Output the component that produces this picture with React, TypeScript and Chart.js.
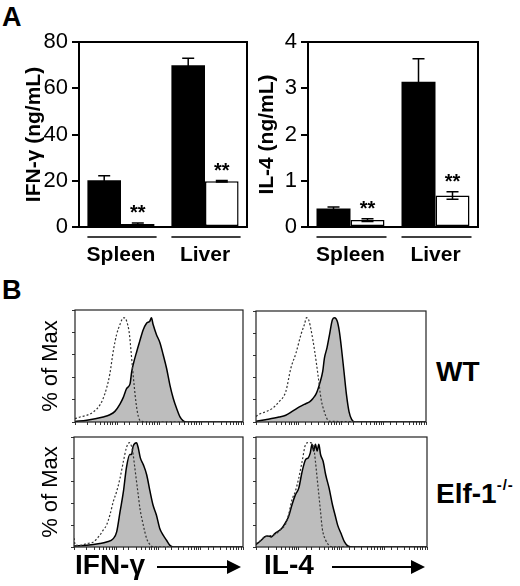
import React, { useEffect, useRef } from 'react';
import { Chart, registerables } from 'chart.js';

Chart.register(...registerables);

const FONT = "'Liberation Sans', Arial, Helvetica, sans-serif";

// ---------- Panel A data ----------
const tissues = ['Spleen', 'Liver'];
const ifngWT = [20.2, 70.0];
const ifngWTErr = [2.0, 3.0];
const ifngKO = [1.3, 19.8];
const ifngKOErr = [0.4, 0.3];
const il4WT = [0.4, 3.14];
const il4WTErr = [0.03, 0.5];
const il4KO = [0.15, 0.68];
const il4KOErr = [0.03, 0.08];
const sigMarks = ['**', '**'];

// ---------- Panel B data (x in log decades, y in % of max) ----------
const ifnWtIsoX = [0, 0.12, 0.28, 0.44, 0.59, 0.67, 0.75, 0.83, 0.91, 0.99, 1.07, 1.15, 1.19, 1.23, 1.29, 1.33, 1.37, 1.41, 1.45, 1.49, 1.53, 1.6, 1.75, 4];
const ifnWtIsoY = [3, 4.5, 6, 9, 15, 21, 30, 43, 63, 78, 87, 93, 93, 90, 80, 65, 48, 32, 18, 8, 2.5, 0.5, 0, 0];
const ifnWtX = [0, 0.28, 0.67, 0.83, 0.95, 1.07, 1.15, 1.23, 1.31, 1.35, 1.39, 1.47, 1.54, 1.62, 1.7, 1.78, 1.82, 1.86, 1.94, 2.02, 2.1, 2.18, 2.26, 2.34, 2.42, 2.5, 2.57, 2.65, 4];
const ifnWtY = [0.5, 1.5, 4.5, 6.5, 9.5, 16, 22, 30, 34, 45, 52, 63, 72, 82, 88, 90, 93, 87, 78, 71, 60, 48, 33, 21, 12, 4.5, 1.2, 0, 0];

const il4WtIsoX = [0, 0.06, 0.22, 0.38, 0.54, 0.7, 0.82, 0.94, 1.06, 1.14, 1.19, 1.24, 1.3, 1.38, 1.46, 1.53, 1.61, 1.67, 1.73, 4];
const il4WtIsoY = [5, 6.7, 9.1, 12.1, 18.2, 27.3, 48.5, 62, 79, 88, 94, 92, 82, 64, 42, 21, 9, 3, 0.6, 0];
const il4WtX = [0, 0.22, 0.54, 0.7, 0.86, 1.02, 1.18, 1.26, 1.34, 1.42, 1.5, 1.57, 1.61, 1.67, 1.73, 1.8, 1.85, 1.91, 1.96, 2.01, 2.07, 2.13, 2.19, 2.25, 2.33, 4];
const il4WtY = [0.6, 2.1, 4.5, 6.1, 9.7, 13.6, 16.7, 18.2, 21.2, 25.8, 34.8, 45.5, 57.6, 66.7, 78.8, 92.4, 93.9, 90.9, 81.8, 66.7, 45.5, 24.2, 9.1, 2.4, 0, 0];

const ifnKoIsoX = [0, 0.03, 0.14, 0.3, 0.46, 0.61, 0.69, 0.77, 0.85, 0.93, 1.01, 1.09, 1.17, 1.24, 1.31, 1.36, 1.4, 1.44, 1.48, 1.52, 1.56, 1.64, 1.72, 1.8, 1.87, 4];
const ifnKoIsoY = [8, 1.5, 1.5, 3.1, 4.6, 10.7, 15.3, 19.9, 29.1, 41.3, 50.5, 62.7, 78, 90.2, 94.8, 91.7, 84.1, 71.9, 59.6, 47.4, 35.2, 19.9, 7.6, 2.1, 0, 0];
const ifnKoX = [0, 0.3, 0.61, 0.77, 0.93, 1.01, 1.09, 1.17, 1.24, 1.32, 1.36, 1.4, 1.48, 1.52, 1.57, 1.64, 1.72, 1.8, 1.87, 1.95, 2.03, 2.11, 2.19, 2.27, 2.35, 4];
const ifnKoY = [1, 1.5, 3.1, 4.6, 7.6, 13.8, 32.1, 50.5, 71.9, 84.1, 84.1, 91.7, 94.8, 90.2, 81, 74.9, 65.7, 50.5, 38.2, 29.1, 16.8, 10.7, 6.1, 1.5, 0, 0];

const il4KoIsoX = [0, 0.12, 0.2, 0.28, 0.44, 0.6, 0.68, 0.76, 0.84, 0.92, 1.0, 1.08, 1.16, 1.22, 1.27, 1.35, 1.39, 1.43, 1.47, 1.51, 1.55, 1.63, 1.71, 1.79, 4];
const il4KoIsoY = [3.1, 6.1, 9.2, 10.1, 11.3, 16.8, 19.9, 29.1, 42.8, 50.5, 62.7, 78, 93.3, 94.8, 94.8, 90.2, 78, 62.7, 47.4, 32.1, 16.8, 6.1, 1.5, 0, 0];
const il4KoX = [0, 0.12, 0.2, 0.28, 0.36, 0.44, 0.6, 0.68, 0.76, 0.84, 0.92, 1.0, 1.08, 1.16, 1.22, 1.27, 1.31, 1.35, 1.39, 1.43, 1.47, 1.51, 1.57, 1.63, 1.71, 1.79, 1.86, 1.91, 1.99, 2.07, 2.15, 2.27, 4];
const il4KoY = [2.1, 6.1, 9.2, 10.1, 9.2, 12.2, 16.8, 21.4, 27.5, 38.2, 47.4, 53.5, 68.8, 79.5, 81, 85.6, 93.3, 87.2, 93.3, 87.2, 93.3, 84.1, 78, 65.7, 53.5, 38.2, 27.5, 19.9, 12.2, 4.6, 0.9, 0, 0];

const pctTicksMax = 100;

// ---------- plugins ----------
const barDecor = {
  id: 'barDecor',
  afterDatasetsDraw(chart: any) {
    const { ctx, chartArea: a } = chart;
    const y = chart.scales.y;
    ctx.save();
    ctx.strokeStyle = '#000';
    ctx.fillStyle = '#000';
    chart.data.datasets.forEach((ds: any, i: number) => {
      const meta = chart.getDatasetMeta(i);
      meta.data.forEach((bar: any, j: number) => {
        const v = ds.data[j];
        const e = ds.errors[j];
        const x = bar.x;
        const yt = y.getPixelForValue(v + e);
        const yb = y.getPixelForValue(Math.max(0, v - e));
        ctx.lineWidth = 1.5;
        ctx.beginPath();
        ctx.moveTo(x, yb);
        ctx.lineTo(x, yt);
        ctx.moveTo(x - 6, yt);
        ctx.lineTo(x + 6, yt);
        ctx.moveTo(x - 6, yb);
        ctx.lineTo(x + 6, yb);
        ctx.stroke();
        if (ds.marks) {
          ctx.font = `bold 20px ${FONT}`;
          ctx.textAlign = 'center';
          ctx.textBaseline = 'alphabetic';
          ctx.fillText(ds.marks[j], x, yt - 4);
        }
      });
    });
    ctx.lineWidth = 2;
    ctx.strokeRect(a.left, a.top, a.right - a.left, a.bottom - a.top);
    const m0 = chart.getDatasetMeta(0);
    const m1 = chart.getDatasetMeta(chart.data.datasets.length - 1);
    ctx.lineWidth = 1.5;
    m0.data.forEach((b: any, j: number) => {
      const r = m1.data[j];
      ctx.beginPath();
      ctx.moveTo(b.x - b.width / 2, a.bottom + 10);
      ctx.lineTo(r.x + r.width / 2 + 2, a.bottom + 10);
      ctx.stroke();
    });
    ctx.restore();
  },
};

const histDecor = {
  id: 'histDecor',
  afterDraw(chart: any, _args: any, opts: any) {
    const { ctx, chartArea: a } = chart;
    ctx.save();
    ctx.strokeStyle = '#222';
    ctx.lineWidth = 1.2;
    ctx.strokeRect(a.left, a.top, a.right - a.left, a.bottom - a.top);
    if (opts && opts.arrowFrom) {
      const yA = a.bottom + 20;
      const x0 = a.left + opts.arrowFrom;
      const x1 = a.right - 2;
      ctx.strokeStyle = '#000';
      ctx.fillStyle = '#000';
      ctx.lineWidth = 2;
      ctx.beginPath();
      ctx.moveTo(x0, yA);
      ctx.lineTo(x1 - 10, yA);
      ctx.stroke();
      ctx.beginPath();
      ctx.moveTo(x1 - 14, yA - 7);
      ctx.lineTo(x1, yA);
      ctx.lineTo(x1 - 14, yA + 7);
      ctx.closePath();
      ctx.fill();
    }
    ctx.restore();
  },
};

function barConfig(p: any) {
  return {
    type: 'bar',
    data: {
      labels: tissues,
      datasets: [
        { label: 'WT', data: p.wt, errors: p.wtErr, backgroundColor: '#000', borderColor: '#000', borderWidth: 0 },
        { label: 'Elf-1-/-', data: p.ko, errors: p.koErr, marks: sigMarks, backgroundColor: '#fff', borderColor: '#000', borderWidth: 1.5, borderSkipped: false },
      ],
    },
    options: {
      responsive: false,
      animation: false,
      layout: { padding: { left: 0, top: 42, right: p.padRight, bottom: 0 } },
      datasets: { bar: { categoryPercentage: 0.8, barPercentage: 1.0 } },
      plugins: { legend: { display: false }, tooltip: { enabled: false } },
      scales: {
        x: {
          grid: { display: false, drawTicks: false },
          border: { display: false },
          ticks: { color: '#000', font: { family: FONT, size: 21, weight: 'bold', lineHeight: 1.2 }, padding: 16, maxRotation: 0 },
          afterFit: (s: any) => { s.height = 48; },
        },
        y: {
          min: 0,
          max: p.max,
          ticks: { stepSize: p.step, color: '#000', font: { family: FONT, size: 22 }, padding: 4 },
          grid: { drawOnChartArea: false, drawTicks: true, tickLength: 7, color: '#000', lineWidth: 2 },
          border: { display: false },
          title: {
            display: true,
            text: p.title,
            color: '#000',
            font: { family: FONT, size: 21, weight: 'bold', lineHeight: 1.2 },
            padding: { top: p.titlePad, bottom: 0 },
          },
          afterFit: (s: any) => { s.width = p.axisW; },
        },
      },
    },
    plugins: [barDecor],
  };
}

function pts(xs: number[], ys: number[]) {
  return xs.map((d, i) => ({ x: Math.pow(10, d), y: ys[i] }));
}

function histConfig(p: any) {
  return {
    type: 'line',
    data: {
      datasets: [
        { label: 'isotype', data: pts(p.isoX, p.isoY), borderColor: '#333', borderWidth: 1.2, borderDash: [2, 2], fill: false, pointRadius: 0 },
        { label: 'stain', data: pts(p.x, p.y), borderColor: '#000', borderWidth: 1.5, backgroundColor: '#bdbdbd', fill: 'origin', pointRadius: 0 },
      ],
    },
    options: {
      responsive: false,
      animation: false,
      layout: { padding: { left: 0, top: p.padTop, right: p.padRight, bottom: 0 } },
      elements: { line: { cubicInterpolationMode: 'monotone' } },
      plugins: { legend: { display: false }, tooltip: { enabled: false }, histDecor: { arrowFrom: p.arrowFrom } },
      scales: {
        x: {
          type: 'logarithmic',
          min: 1,
          max: 10000,
          ticks: { display: false },
          grid: { drawOnChartArea: false, drawTicks: true, tickLength: 3, color: '#333' },
          border: { display: false },
          afterFit: (s: any) => { s.height = p.xH; },
        },
        y: {
          min: 0,
          max: pctTicksMax,
          ticks: { display: false, stepSize: 20 },
          grid: { drawOnChartArea: false, drawTicks: true, tickLength: 3, color: '#333' },
          border: { display: false },
          title: p.yTitle
            ? { display: true, text: p.yTitle, color: '#000', font: { family: FONT, size: 22, lineHeight: 1.2 }, padding: { top: 38, bottom: 0 } }
            : { display: false },
          afterFit: (s: any) => { s.width = p.yW; },
        },
      },
    },
    plugins: [histDecor],
  };
}

function ChartBox({ left, top, width, height, config }: any) {
  const ref = useRef<HTMLCanvasElement>(null);
  useEffect(() => {
    const chart = new Chart(ref.current as HTMLCanvasElement, config as any);
    return () => chart.destroy();
  }, []);
  return (
    <canvas
      ref={ref}
      width={width}
      height={height}
      style={{ position: 'absolute', left, top, width, height }}
    />
  );
}

function Label({ left, baseline, size, bold = true, children, style }: any) {
  return (
    <div
      style={{
        position: 'absolute',
        left,
        top: baseline - 0.8465 * size,
        fontSize: size,
        lineHeight: `${size}px`,
        fontWeight: bold ? 'bold' : 'normal',
        whiteSpace: 'nowrap',
        ...style,
      }}
    >
      {children}
    </div>
  );
}

export default function App() {
  return (
    <div
      style={{
        position: 'absolute',
        left: 0,
        top: 0,
        width: 520,
        height: 586,
        background: '#fff',
        overflow: 'hidden',
        fontFamily: FONT,
        color: '#000',
      }}
    >
      <Label left={2} baseline={27} size={27}>A</Label>
      <Label left={2} baseline={300} size={27}>B</Label>

      <ChartBox
        left={0}
        top={0}
        width={255}
        height={275}
        config={barConfig({ wt: ifngWT, wtErr: ifngWTErr, ko: ifngKO, koErr: ifngKOErr, max: 80, step: 20, title: 'IFN-γ (ng/mL)', titlePad: 22, axisW: 79, padRight: 8 })}
      />
      <ChartBox
        left={255}
        top={0}
        width={265}
        height={275}
        config={barConfig({ wt: il4WT, wtErr: il4WTErr, ko: il4KO, koErr: il4KOErr, max: 4, step: 1, title: 'IL-4 (ng/mL)', titlePad: 0, axisW: 53, padRight: 42 })}
      />

      <ChartBox
        left={0}
        top={300}
        width={250}
        height={130}
        config={histConfig({ isoX: ifnWtIsoX, isoY: ifnWtIsoY, x: ifnWtX, y: ifnWtY, yTitle: '% of Max', yW: 75, padTop: 10, padRight: 7, xH: 8 })}
      />
      <ChartBox
        left={250}
        top={300}
        width={180}
        height={130}
        config={histConfig({ isoX: il4WtIsoX, isoY: il4WtIsoY, x: il4WtX, y: il4WtY, yW: 6, padTop: 11, padRight: 4, xH: 8 })}
      />
      <ChartBox
        left={0}
        top={428}
        width={250}
        height={158}
        config={histConfig({ isoX: ifnKoIsoX, isoY: ifnKoIsoY, x: ifnKoX, y: ifnKoY, yTitle: '% of Max', yW: 74, padTop: 9, padRight: 7, xH: 39, arrowFrom: 83 })}
      />
      <ChartBox
        left={250}
        top={428}
        width={180}
        height={158}
        config={histConfig({ isoX: il4KoIsoX, isoY: il4KoIsoY, x: il4KoX, y: il4KoY, yW: 6, padTop: 9, padRight: 3, xH: 39, arrowFrom: 76 })}
      />

      <Label left={436} baseline={382} size={28}>WT</Label>
      <Label left={436} baseline={504} size={28}>
        Elf-1
        <span style={{ fontSize: 15, position: 'relative', top: -13, letterSpacing: 1 }}>-/-</span>
      </Label>
      <Label left={75} baseline={575} size={28}>IFN-γ</Label>
      <Label left={264} baseline={575} size={28}>IL-4</Label>
    </div>
  );
}
